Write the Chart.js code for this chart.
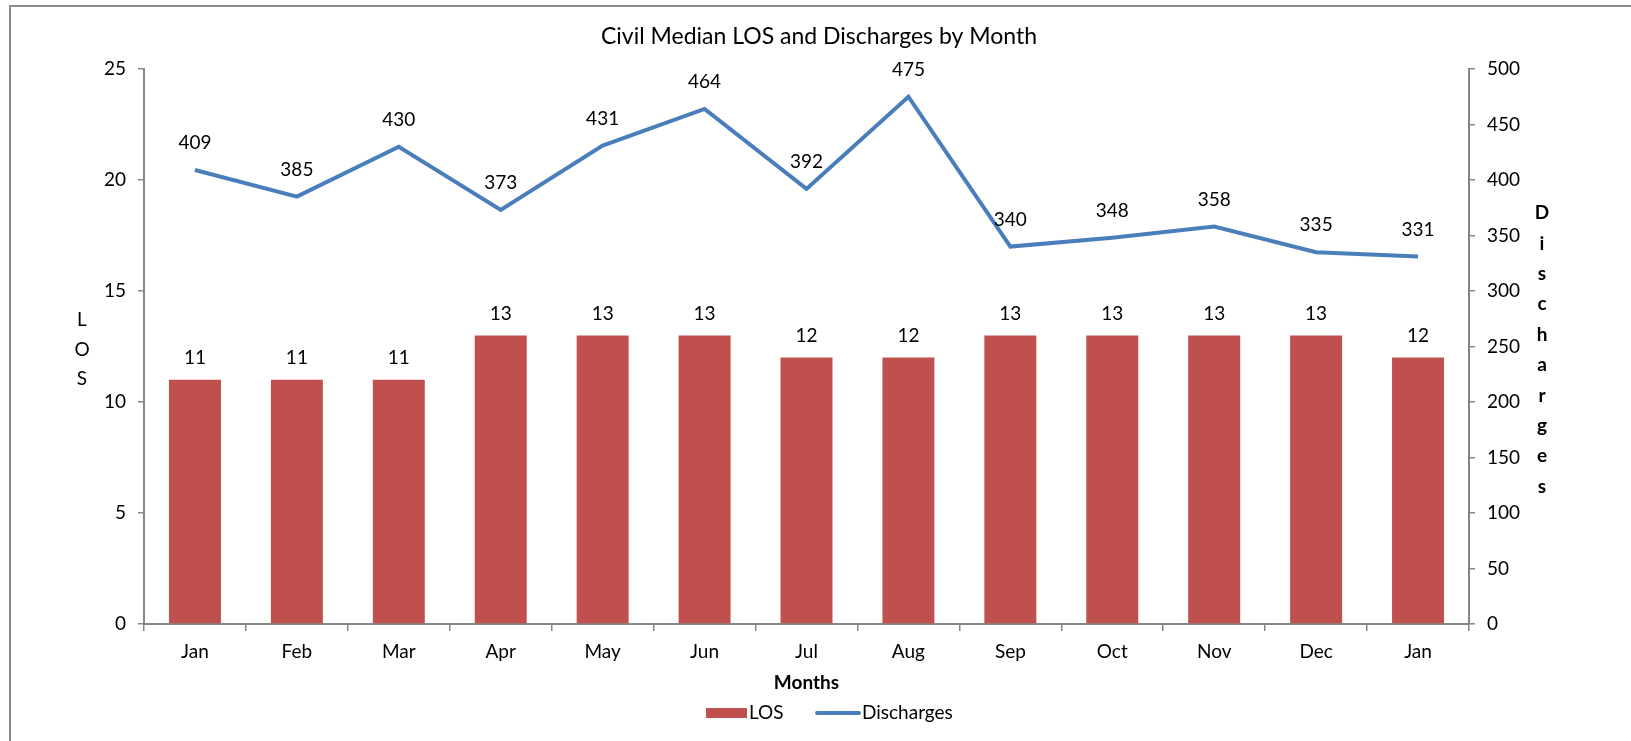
<!DOCTYPE html>
<html><head><meta charset="utf-8">
<script src="https://cdn.jsdelivr.net/npm/chart.js@4.4.1/dist/chart.umd.min.js"></script>
<style>html,body{margin:0;padding:0;background:#fff;overflow:hidden}canvas{display:block}</style>
</head><body>
<canvas id="c" width="1631" height="741"></canvas>
<script>
const months = ['Jan','Feb','Mar','Apr','May','Jun','Jul','Aug','Sep','Oct','Nov','Dec','Jan'];
const losValues = [11,11,11,13,13,13,12,12,13,13,13,13,12];
const dischargeValues = [409,385,430,373,431,464,392,475,340,348,358,335,331];
const losTicks = [0,5,10,15,20,25];
const dischargeTicks = [0,50,100,150,200,250,300,350,400,450,500];
const chartTitle = 'Civil Median LOS and Discharges by Month';
const xTitle = 'Months';
const leftTitle = 'LOS';
const rightTitle = 'Discharges';
const seriesNames = ['LOS','Discharges'];

const FONT = 'Lato, "Noto Sans", sans-serif';
const FS = 19;
const BAR_COLOR = '#C0504D';
const LINE_COLOR = '#4A7EBB';
const AXIS_COLOR = '#868686';

const decor = {
  id: 'decor',
  afterDatasetsDraw(chart) {
    const ctx = chart.ctx;
    ctx.save();
    ctx.fillStyle = '#000';
    ctx.font = FS + 'px ' + FONT;
    ctx.textAlign = 'center';
    ctx.textBaseline = 'middle';
    chart.getDatasetMeta(0).data.forEach((el, i) => {
      ctx.fillText(String(losValues[i]), el.x, el.y - 22);
    });
    chart.getDatasetMeta(1).data.forEach((el, i) => {
      ctx.fillText(String(dischargeValues[i]), el.x, el.y - 27);
    });
    ctx.restore();
  },
  afterDraw(chart) {
    const ctx = chart.ctx;
    const ca = chart.chartArea;
    ctx.save();
    ctx.strokeStyle = '#8C8C8C';
    ctx.lineWidth = 2;
    ctx.beginPath();
    ctx.moveTo(10, 741); ctx.lineTo(10, 6); ctx.lineTo(1631, 6);
    ctx.stroke();

    ctx.fillStyle = '#000';
    ctx.textAlign = 'center';
    ctx.textBaseline = 'middle';
    ctx.font = '23px ' + FONT;
    ctx.fillText(chartTitle, 819, 37);
    ctx.font = 'bold ' + FS + 'px ' + FONT;
    ctx.fillText(xTitle, (ca.left + ca.right) / 2, 683);
    ctx.font = FS + 'px ' + FONT;
    leftTitle.split('').forEach((ch, i) => ctx.fillText(ch, 82, 320 + i * 29.5));
    ctx.font = 'bold ' + FS + 'px ' + FONT;
    rightTitle.split('').forEach((ch, i) => ctx.fillText(ch, 1542, 213 + i * 30.4));
    ctx.fillStyle = BAR_COLOR;
    ctx.fillRect(706, 708, 41, 10);
    ctx.strokeStyle = LINE_COLOR;
    ctx.lineWidth = 4;
    ctx.lineCap = 'round';
    ctx.beginPath(); ctx.moveTo(817, 713); ctx.lineTo(859, 713); ctx.stroke();
    ctx.fillStyle = '#000';
    ctx.font = FS + 'px ' + FONT;
    ctx.textAlign = 'left';
    ctx.fillText(seriesNames[0], 749, 713);
    ctx.fillText(seriesNames[1], 862, 713);
    ctx.restore();
  }
};

new Chart(document.getElementById('c'), {
  type: 'bar',
  data: {
    labels: months,
    datasets: [
      { type: 'bar', label: seriesNames[0], data: losValues, yAxisID: 'y',
        backgroundColor: BAR_COLOR, borderWidth: 0,
        barPercentage: 0.51, categoryPercentage: 1.0, order: 2 },
      { type: 'line', label: seriesNames[1], data: dischargeValues, yAxisID: 'y1',
        borderColor: LINE_COLOR, backgroundColor: LINE_COLOR, borderWidth: 4,
        pointRadius: 0, tension: 0, order: 1, borderJoinStyle: 'miter' }
    ]
  },
  options: {
    responsive: false,
    animation: false,
    devicePixelRatio: 1,
    layout: { padding: { left: 0, right: 0, top: 69, bottom: 0 } },
    plugins: { legend: { display: false }, tooltip: { enabled: false }, title: { display: false } },
    scales: {
      x: {
        offset: true,
        grid: { display: true, offset: true, drawOnChartArea: false, drawTicks: true, tickLength: 7, color: AXIS_COLOR, lineWidth: 1.5 },
        border: { display: true, color: AXIS_COLOR, width: 2 },
        ticks: { color: '#000', font: { family: FONT, size: FS }, padding: 9, maxRotation: 0, autoSkip: false },
        afterFit(s) { s.height = 117; }
      },
      y: {
        position: 'left',
        min: losTicks[0], max: losTicks[losTicks.length - 1],
        grid: { drawOnChartArea: false, drawTicks: true, tickLength: 6, color: AXIS_COLOR, lineWidth: 1.5 },
        border: { display: true, color: AXIS_COLOR, width: 2 },
        ticks: { stepSize: losTicks[1] - losTicks[0], color: '#000', font: { family: FONT, size: FS }, padding: 12 },
        afterFit(s) { s.width = 144; }
      },
      y1: {
        position: 'right',
        min: dischargeTicks[0], max: dischargeTicks[dischargeTicks.length - 1],
        grid: { drawOnChartArea: false, drawTicks: true, tickLength: 6, color: AXIS_COLOR, lineWidth: 1.5 },
        border: { display: true, color: AXIS_COLOR, width: 2 },
        ticks: { stepSize: dischargeTicks[1] - dischargeTicks[0], color: '#000', font: { family: FONT, size: FS }, padding: 12 },
        afterFit(s) { s.width = 162; }
      }
    }
  },
  plugins: [decor]
});
</script>
</body></html>
